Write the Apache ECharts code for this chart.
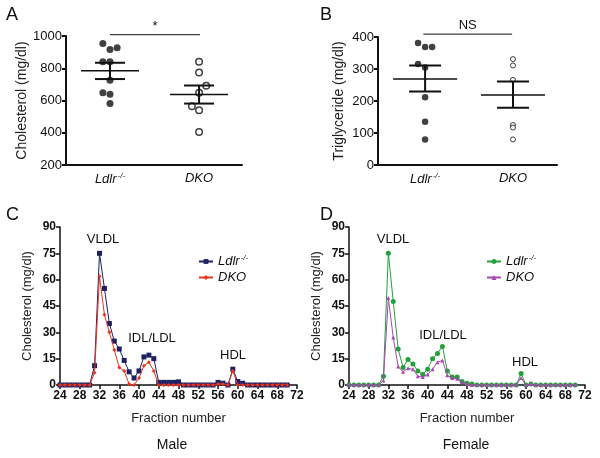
<!DOCTYPE html>
<html><head><meta charset="utf-8">
<script src="https://cdn.jsdelivr.net/npm/echarts@6/dist/echarts.min.js"></script>
<style>html,body{margin:0;padding:0;background:#fff}#c{width:600px;height:458px}</style>
</head><body><div id="c"></div>
<script>
// ---------- Panel A: cholesterol ----------
const groups = ['Ldlr-/-', 'DKO'];
const cholLdlr = [954, 917, 927, 840, 840, 726, 648, 639, 581];
const cholLdlrJitter = [-0.08, 0, 0.08, -0.08, 0, 0, -0.08, 0, 0];
const cholDKO = [840, 774, 691, 648, 565, 540, 405];
const cholDKOJitter = [0, 0, 0.08, 0, -0.08, 0, 0];
const cholSummary = [ // [group, mean, semLow, semHigh]
  [1, 784, 733, 834],
  [2, 637, 581, 693]
];
const cholTicks = [200, 400, 600, 800, 1000];
// ---------- Panel B: triglyceride ----------
const tgLdlr = [381, 369, 369, 316, 305, 212, 135, 80];
const tgLdlrJitter = [-0.08, 0, 0.08, -0.08, 0, 0, 0, 0];
const tgDKO = [331, 311, 266, 125, 117, 80];
const tgDKOJitter = [0, 0, 0, 0, 0, 0];
const tgSummary = [
  [1, 269, 230, 311],
  [2, 219, 179, 261]
];
const tgTicks = [0, 100, 200, 300, 400];
// ---------- Panels C/D: FPLC profiles ----------
const fractions = [24,25,26,27,28,29,30,31,32,33,34,35,36,37,38,39,40,41,42,43,44,45,46,47,48,49,50,51,52,53,54,55,56,57,58,59,60,61,62,63,64,65,66,67,68,69,70];
const maleLdlr = [0,0,0,0,0,0,0,11,75,55,35,25,20.5,14,7.5,4,8,16,17,15,1.5,1.5,1.5,1.5,1.8,0,0,0,0,0,0,0,1.5,1,0,9,2,1,0,0,0,0,0,0,0,0,0];
const maleDKO  = [0,0,0,0,0,0,0,7,62,40,30,20,10,8,0.5,0,4,11,13,8,0,0,0,0,0,0,0,0,0,0,0,0,0.5,0.5,0,8,0,0,0,0,0,0,0,0,0,0,0];
const femLdlr  = [0,0,0,0,0,0,0,5,75,47.5,20.5,10,14.5,12,8,6,9,15,18,22,8,4.5,4.5,2,1,0.5,0,0,0,0,0,0,0,0,0,6.5,0,0.5,0,0,0,0,0,0,0,0,0];
const femDKO   = [0,0,0,0,0,0,0,2.5,49.5,27,10.5,7.5,9.5,9,5,4.5,6,9,13,14,5.5,4,3.5,1.5,0.5,0,0,0,0,0,0,0,0,0,0,4,0,0.5,0,0,0,0,0,0,0,0,0];
const profileTicksX = [24,28,32,36,40,44,48,52,56,60,64,68,72];
const profileTicksY = [0,15,30,45,60,75,90];

const FONT = '"Liberation Sans", Arial, Helvetica, sans-serif';
const chart = echarts.init(document.getElementById('c'), null, {renderer: 'canvas'});

function pts(vals, jit, g) { return vals.map((v, i) => [g + jit[i], v]); }
function prof(arr) { return fractions.map((f, i) => [f, arr[i]]); }

const richName = {
  i: {fontStyle: 'italic', fontSize: 13, fontFamily: FONT, color: '#111'},
  s: {fontStyle: 'italic', fontSize: 8, fontFamily: FONT, color: '#111', padding: [0, 0, 7, 1]}
};
function nameFmt(n) { return n.indexOf('Ldlr') === 0 ? '{i|Ldlr}{s|-/-}' : '{i|DKO}'; }

function summaryRender(meanHalf, capHalf) {
  return function (params, api) {
    const g = api.value(0), m = api.coord([g, api.value(1)]);
    const lo = api.coord([g, api.value(2)]), hi = api.coord([g, api.value(3)]);
    const st = {stroke: '#111', lineWidth: 2};
    return {type: 'group', children: [
      {type: 'line', shape: {x1: m[0] - meanHalf, y1: m[1], x2: m[0] + meanHalf, y2: m[1]}, style: {stroke: '#111', lineWidth: 1.5}},
      {type: 'line', shape: {x1: m[0], y1: lo[1], x2: m[0], y2: hi[1]}, style: st},
      {type: 'line', shape: {x1: m[0] - capHalf, y1: lo[1], x2: m[0] + capHalf, y2: lo[1]}, style: st},
      {type: 'line', shape: {x1: m[0] - capHalf, y1: hi[1], x2: m[0] + capHalf, y2: hi[1]}, style: st}
    ]};
  };
}
const sigText = {sigA: '*', sigB: 'NS'};
function sigRender(params, api) {
  const a = api.coord([api.value(0), api.value(2)]);
  const b = api.coord([api.value(1), api.value(2)]);
  return {type: 'group', children: [
    {type: 'line', shape: {x1: a[0], y1: a[1], x2: b[0], y2: a[1]}, style: {stroke: '#111', lineWidth: 1}},
    {type: 'text', x: (a[0] + b[0]) / 2, y: a[1] - 2, style: {text: sigText[params.seriesName], fill: '#111', font: '13px ' + FONT, align: 'center', verticalAlign: 'bottom'}}
  ]};
}

const axisBlack = {lineStyle: {color: '#111', width: 2}};
function catX(gi, min, max) {
  return {gridIndex: gi, type: 'value', min: min, max: max,
    axisLine: axisBlack, axisTick: {show: false}, splitLine: {show: false},
    axisLabel: {customValues: [1, 2], margin: 7, formatter: v => nameFmt(groups[Math.round(v) - 1]), rich: richName}};
}
function valY(gi, min, max, interval, name, gap, bold, nameSize) {
  return {gridIndex: gi, type: 'value', min: min, max: max, interval: interval,
    name: name, nameLocation: 'middle', nameGap: gap,
    nameTextStyle: {fontFamily: FONT, fontSize: nameSize, color: '#222'},
    axisLine: {show: true, lineStyle: {color: '#111', width: bold ? 1.5 : 2}},
    axisTick: {show: true, length: 4, lineStyle: {color: '#111', width: bold ? 1.5 : 2}},
    splitLine: {show: false},
    axisLabel: {fontFamily: FONT, fontSize: bold ? 12 : 13, fontWeight: bold ? 'bold' : 'normal', color: '#111', margin: 4,
      formatter: v => String(v)}};
}
function fracX(gi) {
  return {gridIndex: gi, type: 'value', min: 24, max: 72, interval: 4,
    name: 'Fraction number', nameLocation: 'middle', nameGap: 27,
    nameTextStyle: {fontFamily: FONT, fontSize: 13, color: '#222'},
    axisLine: {lineStyle: {color: '#111', width: 1.5}},
    axisTick: {length: 4, lineStyle: {color: '#111', width: 1.5}},
    splitLine: {show: false},
    axisLabel: {fontFamily: FONT, fontSize: 12, fontWeight: 'bold', color: '#111', margin: 5}};
}
function profLine(name, arr, xi, color, symbol, size) {
  return {name: name, type: 'line', xAxisIndex: xi, yAxisIndex: xi, data: prof(arr),
    symbol: symbol, symbolSize: size, showSymbol: true,
    lineStyle: {color: color, width: 1}, itemStyle: {color: color}, z: symbol === 'rect' || symbol === 'circle' ? 3 : 4};
}
function legend(left, top, names) {
  return {left: left, top: top, orient: 'vertical', itemGap: 3, itemWidth: 14, itemHeight: 6,
    data: names, formatter: nameFmt, textStyle: {rich: richName, fontFamily: FONT}, selectedMode: false};
}

const option = {
  animation: false,
  backgroundColor: '#fff',
  grid: [
    {left: 66, top: 36, width: 176, height: 129},
    {left: 378, top: 37, width: 179, height: 128},
    {left: 60, top: 227, width: 237, height: 158},
    {left: 349, top: 227, width: 236, height: 158}
  ],
  xAxis: [catX(0, 0.506, 2.482), catX(1, 0.464, 2.501), fracX(2), fracX(3)],
  yAxis: [
    valY(0, 200, 1000, 200, 'Cholesterol (mg/dl)', 36, false, 14),
    valY(1, 0, 400, 100, 'Triglyceride (mg/dl)', 32, false, 14),
    valY(2, 0, 90, 15, 'Cholesterol (mg/dl)', 26, true, 13),
    valY(3, 0, 90, 15, 'Cholesterol (mg/dl)', 26, true, 13)
  ],
  legend: [
    legend(193, 249, ['Ldlr-/-', 'DKO']),
    legend(481, 249, ['Ldlr-/- (female)', 'DKO (female)'])
  ],
  series: [
    {type: 'scatter', xAxisIndex: 0, yAxisIndex: 0, data: pts(cholLdlr, cholLdlrJitter, 1), symbolSize: 7, itemStyle: {color: '#111'}},
    {type: 'scatter', xAxisIndex: 0, yAxisIndex: 0, data: pts(cholDKO, cholDKOJitter, 2), symbolSize: 6.5, itemStyle: {color: '#fff', borderColor: '#111', borderWidth: 1.5}},
    {type: 'custom', xAxisIndex: 0, yAxisIndex: 0, data: cholSummary, renderItem: summaryRender(29, 15), z: 5},
    {name: 'sigA', type: 'custom', xAxisIndex: 0, yAxisIndex: 0, data: [[1.0, 2.01, 1008]], renderItem: sigRender, clip: false},

    {type: 'scatter', xAxisIndex: 1, yAxisIndex: 1, data: pts(tgLdlr, tgLdlrJitter, 1), symbolSize: 6.5, itemStyle: {color: '#111'}},
    {type: 'scatter', xAxisIndex: 1, yAxisIndex: 1, data: pts(tgDKO, tgDKOJitter, 2), symbolSize: 5, itemStyle: {color: '#fff', borderColor: '#111', borderWidth: 1}},
    {type: 'custom', xAxisIndex: 1, yAxisIndex: 1, data: tgSummary, renderItem: summaryRender(32, 16), z: 5},
    {name: 'sigB', type: 'custom', xAxisIndex: 1, yAxisIndex: 1, data: [[0.98, 1.99, 409]], renderItem: sigRender, clip: false},

    profLine('Ldlr-/-', maleLdlr, 2, '#1c2163', 'rect', 5),
    profLine('DKO', maleDKO, 2, '#e8331f', 'diamond', 4),
    profLine('Ldlr-/- (female)', femLdlr, 3, '#23a03a', 'circle', 5),
    profLine('DKO (female)', femDKO, 3, '#a848b0', 'triangle', 4)
  ],
  graphic: [
    {type: 'text', left: 6, top: 6, style: {text: 'A', font: '18px ' + FONT, fill: '#111'}},
    {type: 'text', left: 320, top: 6, style: {text: 'B', font: '18px ' + FONT, fill: '#111'}},
    {type: 'text', left: 6, top: 206, style: {text: 'C', font: '18px ' + FONT, fill: '#111'}},
    {type: 'text', left: 320, top: 206, style: {text: 'D', font: '18px ' + FONT, fill: '#111'}},
    {type: 'text', x: 103, y: 239, style: {text: 'VLDL', font: '13px ' + FONT, fill: '#111', align: 'center', verticalAlign: 'middle'}},
    {type: 'text', x: 152, y: 338, style: {text: 'IDL/LDL', font: '13px ' + FONT, fill: '#111', align: 'center', verticalAlign: 'middle'}},
    {type: 'text', x: 233, y: 355, style: {text: 'HDL', font: '13px ' + FONT, fill: '#111', align: 'center', verticalAlign: 'middle'}},
    {type: 'text', x: 172, y: 445, style: {text: 'Male', font: '14px ' + FONT, fill: '#111', align: 'center', verticalAlign: 'middle'}},
    {type: 'text', x: 393, y: 239, style: {text: 'VLDL', font: '13px ' + FONT, fill: '#111', align: 'center', verticalAlign: 'middle'}},
    {type: 'text', x: 443, y: 335, style: {text: 'IDL/LDL', font: '13px ' + FONT, fill: '#111', align: 'center', verticalAlign: 'middle'}},
    {type: 'text', x: 525, y: 362, style: {text: 'HDL', font: '13px ' + FONT, fill: '#111', align: 'center', verticalAlign: 'middle'}},
    {type: 'text', x: 466, y: 445, style: {text: 'Female', font: '14px ' + FONT, fill: '#111', align: 'center', verticalAlign: 'middle'}}
  ]
};
chart.setOption(option);
</script></body></html>
